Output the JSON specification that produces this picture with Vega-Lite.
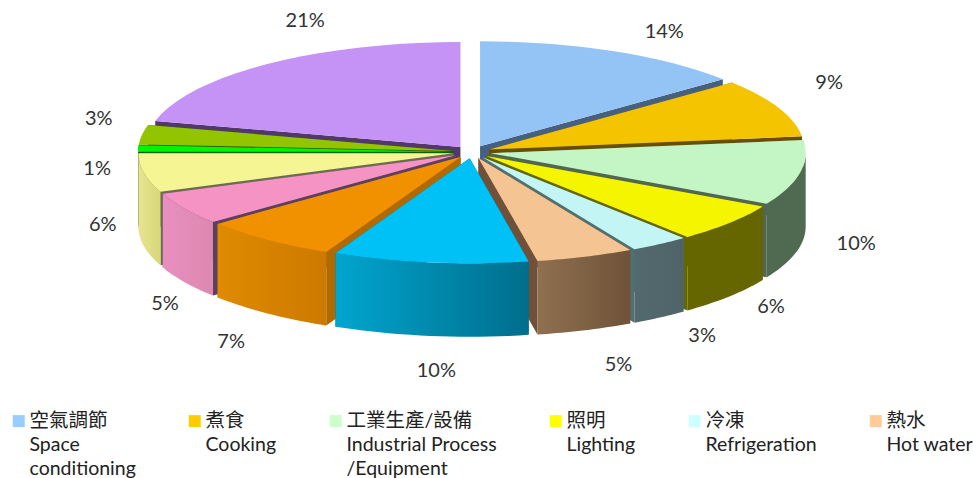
{"$schema":"https://vega.github.io/schema/vega-lite/v6.json","width":973,"height":478,"padding":0,"autosize":{"type":"none"},"background":"white","config":{"view":{"stroke":null},"font":"Lato, Noto Sans CJK TC","style":{"guide-label":{"lineHeight":24}}},
"data":{"values":[
{"key":"space","name":"空氣調節|Space|conditioning","value":14,"ord":1},
{"key":"purple","name":"類別13","value":21,"ord":13},
{"key":"cooking","name":"煮食|Cooking| ","value":9,"ord":2},
{"key":"olive","name":"類別12","value":3,"ord":12},
{"key":"lime","name":"類別11","value":1,"ord":11},
{"key":"green","name":"工業生產/設備|Industrial Process|/Equipment","value":10,"ord":3},
{"key":"paleyellow","name":"類別10","value":6,"ord":10},
{"key":"pink","name":"類別9","value":5,"ord":9},
{"key":"yellow","name":"照明|Lighting| ","value":6,"ord":4},
{"key":"orange","name":"類別8","value":7,"ord":8},
{"key":"cyan","name":"冷凍|Refrigeration| ","value":3,"ord":5},
{"key":"peach","name":"熱水|Hot water| ","value":5,"ord":6},
{"key":"blue","name":"類別7","value":10,"ord":7}
]},
"transform":[
{"stack":"value","groupby":[],"sort":[{"field":"ord","order":"ascending"}],"as":["s0","s1"]},
{"calculate":"datum.s0*2*PI/100","as":"a0"},
{"calculate":"datum.s1*2*PI/100","as":"a1"},
{"calculate":"(datum.a0+datum.a1)/2","as":"mid"},
{"calculate":"0.06*sin(datum.mid)","as":"ex"},
{"calculate":"0.06*cos(datum.mid)","as":"ey"}
],
"layer":[
{"transform":[
{"calculate":"[0,1]","as":"side"},{"flatten":["side"]},
{"calculate":"[0,1,2,3]","as":"idx"},{"flatten":["idx"]},
{"calculate":"datum.side==1?datum.a1:datum.a0","as":"ang"},
{"calculate":"(datum.idx==1||datum.idx==2)?1:0","as":"r"},
{"calculate":"datum.idx>=2?0.7:0","as":"dn"},
{"calculate":"datum.ex+datum.r*sin(datum.ang)","as":"px"},
{"calculate":"datum.ey+datum.r*cos(datum.ang)-datum.dn","as":"py"}],
"mark":{"type":"line","interpolate":"linear-closed","strokeWidth":0},
"encoding":{
"x":{"field":"px","type":"quantitative","axis":null,"scale":{"domain":[-1.498,1.590],"nice":false,"zero":false}},
"y":{"field":"py","type":"quantitative","axis":null,"scale":{"domain":[-3.105,1.4476],"nice":false,"zero":false}},
"order":{"field":"idx"},"detail":{"field":"side"},
"fill":{"field":"key","type":"nominal","legend":null,"scale":{"domain":["space","cooking","green","yellow","cyan","peach","blue","orange","pink","paleyellow","lime","olive","purple"],"range":["#466080","#665000","#506850","#666600","#507070","#705038","#006a88","#b06a00","#5c4060","#6c6c50","#006600","#405000","#503868"]}}}},
{"transform":[
{"filter":"datum.a1>PI/2 && datum.a0<3*PI/2"},
{"calculate":"[0,0.05,0.1,0.15,0.2,0.25,0.3,0.35,0.4,0.45,0.5,0.55,0.6,0.65,0.7,0.75,0.8,0.85,0.9,0.95,1]","as":"t"},{"flatten":["t"]},
{"calculate":"max(datum.a0,PI/2)+datum.t*(min(datum.a1,3*PI/2)-max(datum.a0,PI/2))","as":"ang"},
{"calculate":"datum.ex+sin(datum.ang)","as":"px"},
{"calculate":"datum.ey+cos(datum.ang)","as":"py"},
{"calculate":"datum.py-0.7","as":"py2"}],
"encoding":{
"x":{"field":"px","type":"quantitative"},
"y":{"field":"py","type":"quantitative"},"y2":{"field":"py2"},"detail":{"field":"key"}},
"layer":[
{"transform":[{"filter":"datum.key=='green'"}],"mark":{"type":"area","fill":"#4f6a50"}},
{"transform":[{"filter":"datum.key=='yellow'"}],"mark":{"type":"area","fill":"#666600"}},
{"transform":[{"filter":"datum.key=='cyan'"}],"mark":{"type":"area","fill":{"gradient":"linear","x1":0,"x2":1,"y1":0,"y2":0,"stops":[{"offset":0,"color":"#52696e"},{"offset":1,"color":"#4f6468"}]}}},
{"transform":[{"filter":"datum.key=='peach'"}],"mark":{"type":"area","fill":{"gradient":"linear","x1":0,"x2":1,"y1":0,"y2":0,"stops":[{"offset":0,"color":"#8f7050"},{"offset":1,"color":"#6f5238"}]}}},
{"transform":[{"filter":"datum.key=='blue'"}],"mark":{"type":"area","fill":{"gradient":"linear","x1":0,"x2":1,"y1":0,"y2":0,"stops":[{"offset":0,"color":"#00a5cf"},{"offset":1,"color":"#006e8c"}]}}},
{"transform":[{"filter":"datum.key=='orange'"}],"mark":{"type":"area","fill":{"gradient":"linear","x1":0,"x2":1,"y1":0,"y2":0,"stops":[{"offset":0,"color":"#e08a00"},{"offset":1,"color":"#cc7a00"}]}}},
{"transform":[{"filter":"datum.key=='pink'"}],"mark":{"type":"area","fill":{"gradient":"linear","x1":0,"x2":1,"y1":0,"y2":0,"stops":[{"offset":0,"color":"#e98fc0"},{"offset":1,"color":"#dd88b0"}]}}},
{"transform":[{"filter":"datum.key=='paleyellow'"}],"mark":{"type":"area","fill":{"gradient":"linear","x1":0,"x2":1,"y1":0,"y2":0,"stops":[{"offset":0,"color":"#e8e390"},{"offset":1,"color":"#d8d87a"}]}}}
]},
{"transform":[
{"calculate":"[-1,0,0.05,0.1,0.15,0.2,0.25,0.3,0.35,0.4,0.45,0.5,0.55,0.6,0.65,0.7,0.75,0.8,0.85,0.9,0.95,1]","as":"t"},{"flatten":["t"]},
{"calculate":"datum.a0+datum.t*(datum.a1-datum.a0)","as":"ang"},
{"calculate":"datum.ex+(datum.t<0?0:sin(datum.ang))","as":"px"},
{"calculate":"datum.ey+(datum.t<0?0:cos(datum.ang))","as":"py"}],
"mark":{"type":"line","interpolate":"linear-closed","strokeWidth":0},
"encoding":{
"x":{"field":"px","type":"quantitative"},
"y":{"field":"py","type":"quantitative"},
"order":{"field":"t"},
"fill":{"field":"name","type":"nominal",
"scale":{"domain":["空氣調節|Space|conditioning","煮食|Cooking| ","工業生產/設備|Industrial Process|/Equipment","照明|Lighting| ","冷凍|Refrigeration| ","熱水|Hot water| ","類別7","類別8","類別9","類別10","類別11","類別12","類別13"],"range":["#99ccff","#ffcc00","#ccffcc","#ffff00","#ccffff","#ffcc99","#00c9ff","#fc9700","#ff99cc","#ffff99","#00ff00","#99cc00","#cc99ff"]},
"legend":{"title":null,"orient":"none","legendX":9,"legendY":402,"columns":6,"gridAlign":"each","columnPadding":49,"rowPadding":0,"symbolType":"M-1,0.5H1V2.5H-1Z","symbolSize":144,"symbolStrokeWidth":0,"labelFontSize":19.5,"labelColor":"#222222","labelOffset":1,"labelLimit":400,"labelBaseline":"top","labelExpr":"split(datum.label,'|')","values":["空氣調節|Space|conditioning","煮食|Cooking| ","工業生產/設備|Industrial Process|/Equipment","照明|Lighting| ","冷凍|Refrigeration| ","熱水|Hot water| "]}}}},
{"transform":[
{"calculate":"[-1,0,0.05,0.1,0.15,0.2,0.25,0.3,0.35,0.4,0.45,0.5,0.55,0.6,0.65,0.7,0.75,0.8,0.85,0.9,0.95,1]","as":"t"},{"flatten":["t"]},
{"calculate":"datum.a0+datum.t*(datum.a1-datum.a0)","as":"ang"},
{"calculate":"datum.ex+(datum.t<0?0:sin(datum.ang))","as":"px"},
{"calculate":"datum.ey+(datum.t<0?0:cos(datum.ang))","as":"py"}],
"mark":{"type":"line","interpolate":"linear-closed","strokeWidth":0,"fill":"#000000","fillOpacity":0.04},
"encoding":{
"x":{"field":"px","type":"quantitative"},
"y":{"field":"py","type":"quantitative"},
"order":{"field":"t"},"detail":{"field":"key"}}},
{"transform":[
{"calculate":"{space:27,cooking:1,green:3,yellow:0,cyan:12,peach:15,blue:13,orange:-3,pink:27,paleyellow:12,lime:13,olive:10,purple:71}[datum.key]","as":"nx"},
{"calculate":"{space:13,cooking:-11,green:-9,yellow:-12,cyan:-11,peach:2,blue:0,orange:1,pink:4,paleyellow:-28,lime:22,olive:-10,purple:-15}[datum.key]","as":"ny"},
{"calculate":"1.22*sin(datum.mid)*318/315+datum.nx/315","as":"lx"},
{"calculate":"1.4*cos(datum.mid)-(cos(datum.mid)<0?0.695:0)-datum.ny/105","as":"ly"},
{"calculate":"datum.value+'%'","as":"pct"}],
"mark":{"type":"text","fontSize":20,"color":"#333333","align":"center","baseline":"middle"},
"encoding":{
"x":{"field":"lx","type":"quantitative"},
"y":{"field":"ly","type":"quantitative"},
"text":{"field":"pct"}}}
],
"resolve":{"scale":{"fill":"independent"}}}
